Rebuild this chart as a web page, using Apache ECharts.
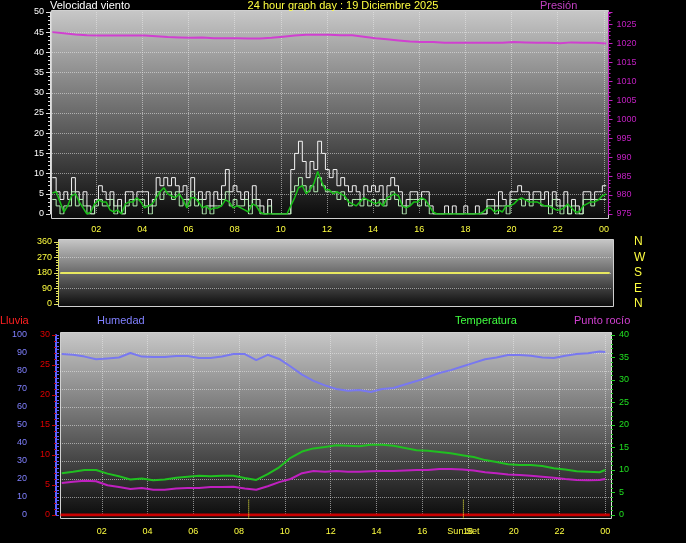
<!DOCTYPE html>
<html><head><meta charset="utf-8">
<script src="https://cdn.jsdelivr.net/npm/echarts@6/dist/echarts.min.js"></script>
<style>html,body{margin:0;padding:0;background:#000;}#c{width:686px;height:543px;}</style>
</head><body><div id="c"></div>
<script>
// ---- Wind (km/h), sampled every 10 minutes from 00:06 ----
const windStart = 0.1, windStep = 1 / 6;
const windGust = [
9,5.5,3.6,5.5,3.6,9, 5.5,3.6,5.5,2,0,3.6, 7,5.5,3.6,5.5,2,3.6, 0,5.5,5.5,3.6,5.5,5.5,
5.5,2,3.6,9,7,9, 7,9,7,5.5,7,3.6, 9,3.6,5.5,3.6,5.5,2, 5.5,3.6,7,11,5.5,7,
5.5,3.6,5.5,2,7,3.6, 2,0,3.6,0,0,0, 0,0,11,15,18,13, 9,13,11,18,15,11,
9,11,7,9,7,5.5, 7,5.5,3.6,7,5.5,7, 5.5,7,3.6,7,9,7, 5.5,2,3.6,5.5,5.5,3.6,
5.5,5.5,2,0,0,0, 2,0,2,0,0,2, 0,0,2,0,0,3.6, 3.6,2,5.5,3.6,2,5.5,
5.5,7,5.5,5.5,3.6,5.5, 5.5,3.6,5.5,2,5.5,3.6, 2,5.5,0,3.6,2,0, 5.5,5.5,3.6,5.5,5.5,7,
7];
const windSpeed = [
3.6,2,0,2,2,5.5, 2,3.6,2,0,0,2, 3.6,2,2,3.6,0,2, 0,2,3.6,2,3.6,3.6,
2,0,2,5.5,3.6,5.5, 5.5,3.6,5.5,2,3.6,2, 5.5,2,3.6,0,2,0, 2,2,3.6,5.5,2,3.6,
2,2,3.6,0,3.6,2, 0,0,2,0,0,0, 0,0,5.5,7,9,7, 5.5,7,5.5,9,7,5.5,
5.5,5.5,3.6,5.5,3.6,2, 3.6,3.6,2,3.6,2,3.6, 2,3.6,2,3.6,5.5,3.6, 2,0,2,3.6,3.6,2,
3.6,2,0,0,0,0, 0,0,0,0,0,0, 0,0,0,0,0,2, 2,0,2,2,0,3.6,
3.6,3.6,2,3.6,2,3.6, 3.6,2,2,0,3.6,2, 0,2,0,2,0,0, 3.6,3.6,2,3.6,3.6,3.6,
3.6];
const windAvg = [
5.2,5.5,3,0.5,2,4.5, 5,3,1.5,0,0.5,2.5, 3.5,3,3,1,0.5,1, 0,2.5,3,3,4,3,
1.5,2,2.5,4,5.5,6.5, 5,4.5,4,5,3.5,1.5, 4,4,3,1.5,2,1, 1.5,1.5,2,3.5,3,1.5,
2,1.5,1,0.5,2.5,2, 0.5,0,0,0,0,0, 0,0,2,4,6.5,7, 5,6,7.5,10.5,8,6,
6,5,5.5,5,4.5,3, 2.5,2,3,4,3.5,3, 2.5,3,2,4,4.5,5, 4.5,2,1.5,2,3,3,
4,3.5,2,0.5,0,0, 0,0,0,0,0,0, 0,0,0,0,0.5,1.5, 1.5,0.5,1,0.5,2,2,
2.5,3.5,4,3.5,3,3, 3,2.5,2,2,1.5,1, 1,1.5,2.5,1.5,0.5,0.5, 2,2.5,3,3,3.5,4.5,
5];
// ---- Pressure (hPa), every 30 minutes from 00:06 ----
const pressStart = 0.1, pressStep = 0.5;
const pressure = [
1022.9,1022.6,1022.3,1022.1,1022.0,1022.0,1022.0,1022.0,1022.0,1021.8,
1021.6,1021.5,1021.4,1021.5,1021.3,1021.3,1021.3,1021.2,1021.2,1021.4,
1021.7,1022.0,1022.2,1022.2,1022.2,1022.1,1022.1,1021.7,1021.3,1021.0,
1020.7,1020.4,1020.3,1020.3,1020.1,1020.1,1020.1,1020.1,1020.1,1020.1,
1020.3,1020.2,1020.1,1020.1,1020.0,1020.2,1020.1,1020.1,1019.9];
// ---- Wind direction (degrees) ----
const dirHours = [0.1, 6, 12, 18, 24.1];
const windDir = [180, 180, 180, 180, 180];
// ---- Temperature / dew point (°C), humidity (%) ----
const thHours = [0.25,0.75,1.25,1.75,2.25,2.75,3.25,3.75,4.25,4.75,5.25,5.75,6.25,6.75,7.25,7.75,
8.25,8.75,9.25,9.75,10.25,10.75,11.25,11.75,12.25,12.75,13.25,13.75,14.25,14.75,15.25,15.75,
16.25,16.75,17.25,17.75,18.25,18.75,19.25,19.75,20.25,20.75,21.25,21.75,22.25,22.75,23.25,23.75,24.0];
const temperature = [9.3,9.6,10,10,9.2,8.6,7.9,8.1,7.7,7.9,8.3,8.5,8.7,8.6,8.7,8.7,
8.2,7.8,9.1,10.6,12.7,14.1,14.8,15.1,15.5,15.4,15.3,15.6,15.6,15.4,14.9,14.4,
14.3,14.0,13.7,13.3,12.9,12.2,11.8,11.3,11.1,11.1,10.9,10.4,10.1,9.7,9.6,9.5,10];
const dewPoint = [7.1,7.4,7.6,7.5,6.6,6.2,5.8,6.0,5.6,5.6,5.9,6.0,6.0,6.2,6.2,6.3,
5.9,5.6,6.4,7.3,8.0,9.3,9.8,9.6,9.8,9.6,9.6,9.7,9.8,9.8,9.9,10.0,
10.0,10.2,10.2,10.1,9.9,9.5,9.3,9.0,8.9,8.7,8.5,8.3,8.0,7.8,7.7,7.8,8.0];
const humidity = [89.5,89,88,86.5,87,87.5,90,88,87.8,87.8,88.3,88.3,87.2,87.2,88,89.4,
89.4,86,89,86.7,82.5,78,74.5,72,70,69,69.5,68.3,70,70.6,72.5,74.4,
76.5,78.9,80.5,82.5,84.5,86.5,87.5,88.9,88.9,88.5,87.5,87.2,88.5,89.4,89.8,90.8,90.6];
// ---- Rain (mm) ----
const rainHours = [0.2, 24.2];
const rain = [0, 0];
// ---- Sun ----
const sunRise = 8.42, sunSet = 17.8;

const FONT = '"Liberation Sans", Arial, sans-serif';
const pad = v => { const h = Math.round(v) % 24; return (h < 10 ? '0' : '') + h; };
const series1 = (arr, start, step) => arr.map((v, i) => [start + i * step, v]);
const zip = (xs, ys) => xs.map((x, i) => [x, ys[i]]);
const grad = () => new echarts.graphic.LinearGradient(0, 0, 0, 1, [
  {offset: 0, color: '#c8c8c8'}, {offset: 1, color: '#0a0a0a'}]);
const dotted = c => ({show: true, showMinLine: false, showMaxLine: false, lineStyle: {type: 'dotted', color: c || 'rgba(235,235,235,0.55)', width: 1}});

const chart = echarts.init(document.getElementById('c'), null, {renderer: 'canvas'});
const txt = (x, y, s, c, align) => ({type: 'text', x, y, style: {text: s, fill: c, font: '11px ' + FONT, textAlign: align || 'left', textVerticalAlign: 'middle'}});
const rect = (x, y, w, h) => ({type: 'rect', z: -10, shape: {x, y, width: w, height: h}, style: {fill: grad(), stroke: '#d0d0d0', lineWidth: 1}});

chart.setOption({
  backgroundColor: '#000',
  animation: false,
  textStyle: {fontFamily: FONT},
  graphic: {elements: [
    rect(51.5, 10.5, 557, 208),
    rect(58.5, 239.5, 555, 67),
    rect(60.5, 332.5, 551, 186),
    txt(50, 6, 'Velocidad viento', '#ffffff'),
    txt(343, 6, '24 hour graph day : 19 Diciembre 2025', '#ffff40', 'center'),
    txt(540, 6, 'Presión', '#c040c0'),
    txt(0, 321, 'Lluvia', '#ff2020'),
    txt(97, 321, 'Humedad', '#8080ff'),
    txt(455, 321, 'Temperatura', '#40ff40'),
    txt(574, 321, 'Punto rocío', '#d040d0')
  ]},
  grid: [
    {left: 50, top: 12, width: 558.5, height: 202},
    {left: 58, top: 242, width: 554, height: 62},
    {left: 56, top: 335, width: 555, height: 180}
  ],
  xAxis: [
    {gridIndex: 0, type: 'value', min: 0, max: 24.2, interval: 2,
     axisLine: {show: false}, axisTick: {show: false},
     axisLabel: {color: '#ffff40', fontSize: 9, margin: 11, showMinLabel: false, showMaxLabel: false, formatter: pad},
     splitLine: dotted()},
    {gridIndex: 1, type: 'value', min: 0, max: 24.2, show: false},
    {gridIndex: 2, type: 'value', min: 0, max: 24.25, interval: 2,
     axisLine: {show: false}, axisTick: {show: false},
     axisLabel: {color: '#ffff40', fontSize: 9, margin: 12, showMinLabel: false, showMaxLabel: false, formatter: pad},
     splitLine: dotted()},
    {gridIndex: 2, type: 'value', min: 0, max: 24.25, position: 'bottom',
     axisLine: {show: false}, axisTick: {show: false}, splitLine: {show: false},
     axisLabel: {color: '#ffff40', fontSize: 9, margin: 12, customValues: [sunSet], formatter: () => 'Sun Set'}}
  ],
  yAxis: [
    {gridIndex: 0, type: 'value', min: 0, max: 50, interval: 5,
     axisLine: {show: true, lineStyle: {color: '#e0e0e0'}},
     axisTick: {show: true, length: 4, lineStyle: {color: '#e0e0e0'}},
     minorTick: {show: true, splitNumber: 5, length: 2, lineStyle: {color: '#e0e0e0'}},
     axisLabel: {color: '#ffffff', fontSize: 9, margin: 6},
     splitLine: dotted()},
    {gridIndex: 0, type: 'value', position: 'right', min: 975, max: 1028.2, interval: 5,
     axisLine: {show: true, lineStyle: {color: '#c020c0'}},
     axisTick: {show: true, length: 4, lineStyle: {color: '#c020c0'}},
     minorTick: {show: true, splitNumber: 5, length: 2, lineStyle: {color: '#c020c0'}},
     axisLabel: {color: '#c020c0', fontSize: 9, margin: 8, showMaxLabel: false, formatter: v => String(v)},
     splitLine: {show: false}},
    {gridIndex: 1, type: 'value', min: 0, max: 360, interval: 90,
     axisLine: {show: true, lineStyle: {color: '#e0e060'}},
     axisTick: {show: true, length: 4, lineStyle: {color: '#e0e060'}},
     minorTick: {show: true, splitNumber: 6, length: 2, lineStyle: {color: '#e0e060'}},
     axisLabel: {color: '#ffff40', fontSize: 9, margin: 6},
     splitLine: dotted()},
    {gridIndex: 1, type: 'value', position: 'right', min: 0, max: 360, interval: 90,
     axisLine: {show: false}, axisTick: {show: false}, splitLine: {show: false},
     axisLabel: {color: '#ffff40', fontSize: 12, margin: 22,
       formatter: v => ({0: 'N', 90: 'E', 180: 'S', 270: 'W', 360: 'N'})[v]}},
    {gridIndex: 2, type: 'value', position: 'left', offset: 25, min: 0, max: 100, interval: 10,
     axisLine: {show: true, lineStyle: {color: '#6060ff', width: 2}},
     axisTick: {show: true, length: 3, inside: true, lineStyle: {color: '#6060ff'}},
     minorTick: {show: true, splitNumber: 5, length: 3, lineStyle: {color: '#6060ff'}},
     axisLabel: {color: '#8080ff', fontSize: 9, margin: 4},
     splitLine: dotted()},
    {gridIndex: 2, type: 'value', position: 'left', offset: 0, min: 0, max: 30, interval: 5,
     axisLine: {show: false},
     axisTick: {show: true, length: 4, lineStyle: {color: '#c00000'}},
     minorTick: {show: true, splitNumber: 5, length: 2, lineStyle: {color: '#c00000'}},
     axisLabel: {color: '#e00000', fontSize: 9, margin: 6},
     splitLine: {show: false}},
    {gridIndex: 2, type: 'value', position: 'right', min: 0, max: 40, interval: 5,
     axisLine: {show: true, lineStyle: {color: '#e0e0e0'}},
     axisTick: {show: true, length: 4, lineStyle: {color: '#20d020'}},
     minorTick: {show: true, splitNumber: 5, length: 2, lineStyle: {color: '#20d020'}},
     axisLabel: {color: '#20e020', fontSize: 9, margin: 8},
     splitLine: {show: false}}
  ],
  series: [
    {type: 'line', xAxisIndex: 0, yAxisIndex: 0, step: 'end', showSymbol: false, data: series1(windGust, windStart, windStep),
     lineStyle: {color: '#f4f4f4', width: 1}},
    {type: 'line', xAxisIndex: 0, yAxisIndex: 0, step: 'end', showSymbol: false, data: series1(windSpeed, windStart, windStep),
     lineStyle: {color: '#b8f0b8', width: 1}},
    {type: 'line', xAxisIndex: 0, yAxisIndex: 0, showSymbol: false, data: series1(windAvg, windStart, windStep),
     lineStyle: {color: '#18c018', width: 1.5}},
    {type: 'line', xAxisIndex: 0, yAxisIndex: 1, showSymbol: false, data: series1(pressure, pressStart, pressStep),
     lineStyle: {color: '#d040d0', width: 2}},
    {type: 'line', xAxisIndex: 1, yAxisIndex: 2, showSymbol: false, data: zip(dirHours, windDir),
     lineStyle: {color: '#e8e860', width: 2}},
    {type: 'line', xAxisIndex: 2, yAxisIndex: 4, showSymbol: false, data: zip(thHours, humidity),
     lineStyle: {color: '#7878f0', width: 2}},
    {type: 'line', xAxisIndex: 2, yAxisIndex: 6, showSymbol: false, data: zip(thHours, temperature),
     lineStyle: {color: '#20c020', width: 2}},
    {type: 'line', xAxisIndex: 2, yAxisIndex: 6, showSymbol: false, data: zip(thHours, dewPoint),
     lineStyle: {color: '#c020c0', width: 2}},
    {type: 'line', xAxisIndex: 2, yAxisIndex: 5, showSymbol: false, data: zip(rainHours, rain),
     lineStyle: {color: '#c80000', width: 3}},
    {type: 'line', xAxisIndex: 2, yAxisIndex: 6, showSymbol: false, data: [[sunRise, -0.8], [sunRise, 3.4]], clip: false,
     lineStyle: {color: '#ffff40', width: 1, type: 'dotted'}},
    {type: 'line', xAxisIndex: 2, yAxisIndex: 6, showSymbol: false, data: [[sunSet, -0.8], [sunSet, 3.4]], clip: false,
     lineStyle: {color: '#ffff40', width: 1, type: 'dotted'}}
  ]
});
</script></body></html>
